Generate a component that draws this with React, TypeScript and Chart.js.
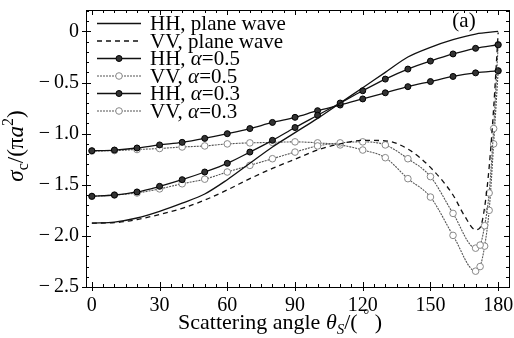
import React, { useEffect, useRef } from "react";
import { Chart, registerables } from "chart.js";

Chart.register(...registerables);

// ---------- data ----------
const angles = [0, 10, 20, 30, 40, 50, 60, 70, 80, 90, 100, 110, 120, 130, 140, 150, 160, 170, 180];
const anglesVVPlane = [0, 10, 20, 30, 40, 50, 60, 70, 80, 90, 100, 110, 120, 130, 140, 150, 160, 165, 170, 172, 174, 176, 178, 180];
const anglesVVAlpha = [0, 10, 20, 30, 40, 50, 60, 70, 80, 90, 100, 110, 120, 130, 140, 150, 160, 170, 172, 174, 176, 178, 180];

const hhPlane = [-1.875, -1.865, -1.825, -1.76, -1.68, -1.59, -1.45, -1.29, -1.13, -0.99, -0.85, -0.7, -0.55, -0.4, -0.25, -0.155, -0.08, -0.025, 0.0];
const vvPlane = [-1.875, -1.87, -1.84, -1.79, -1.73, -1.65, -1.55, -1.44, -1.34, -1.25, -1.16, -1.1, -1.065, -1.07, -1.15, -1.33, -1.6, -1.8, -1.94, -1.92, -1.72, -1.33, -0.75, -0.01];
const hhA05 = [-1.613, -1.6, -1.57, -1.515, -1.45, -1.375, -1.29, -1.18, -1.065, -0.94, -0.82, -0.7, -0.58, -0.466, -0.368, -0.29, -0.22, -0.165, -0.13];
const vvA05 = [-1.613, -1.6, -1.58, -1.54, -1.49, -1.445, -1.375, -1.31, -1.245, -1.18, -1.12, -1.09, -1.08, -1.11, -1.245, -1.42, -1.78, -2.12, -2.09, -1.9, -1.58, -0.95, -0.13];
const hhA03 = [-1.167, -1.16, -1.14, -1.11, -1.085, -1.046, -1.0, -0.95, -0.89, -0.84, -0.775, -0.72, -0.66, -0.6, -0.54, -0.49, -0.44, -0.405, -0.385];
const vvA03 = [-1.17, -1.165, -1.155, -1.145, -1.13, -1.12, -1.1, -1.09, -1.085, -1.08, -1.09, -1.11, -1.16, -1.235, -1.44, -1.62, -1.995, -2.345, -2.3, -2.1, -1.75, -1.1, -0.385];

const xTicks = [0, 30, 60, 90, 120, 150, 180];
const yTicks = [0, -0.5, -1.0, -1.5, -2.0, -2.5];

const seriesNames = ["HH, plane wave", "VV, plane wave", "HH, α=0.5", "VV, α=0.5", "HH, α=0.3", "VV, α=0.3"];

const SERIF = "'Liberation Serif', 'DejaVu Serif', 'Times New Roman', serif";

type Seg = { t: string; it?: boolean; sub?: boolean; sup?: boolean };

function drawRich(ctx: CanvasRenderingContext2D, segs: Seg[], size: number, cx: number, cy: number, align: "center" | "left") {
  const fontFor = (s: Seg) => {
    const sz = s.sub || s.sup ? Math.round(size * 0.68) : size;
    return `${s.it ? "italic " : ""}${sz}px ${SERIF}`;
  };
  let total = 0;
  const widths: number[] = [];
  segs.forEach((s) => {
    ctx.font = fontFor(s);
    const w = ctx.measureText(s.t).width;
    widths.push(w);
    total += w;
  });
  let x = align === "center" ? cx - total / 2 : cx;
  ctx.textBaseline = "middle";
  ctx.textAlign = "left";
  segs.forEach((s, i) => {
    ctx.font = fontFor(s);
    let dy = 0;
    if (s.sub) dy = size * 0.3;
    if (s.sup) dy = -size * 0.35;
    ctx.fillText(s.t, x, cy + dy);
    x += widths[i];
  });
}

const legendSegs: Seg[][] = [
  [{ t: "HH, plane wave" }],
  [{ t: "VV, plane wave" }],
  [{ t: "HH, " }, { t: "α", it: true }, { t: "=0.5" }],
  [{ t: "VV, " }, { t: "α", it: true }, { t: "=0.5" }],
  [{ t: "HH, " }, { t: "α", it: true }, { t: "=0.3" }],
  [{ t: "VV, " }, { t: "α", it: true }, { t: "=0.3" }],
];

const framePlugin = {
  id: "frameTicks",
  afterDraw(chart: any) {
    const { ctx, chartArea: a, scales } = chart;
    const xs = scales.x;
    const ys = scales.y;
    ctx.save();
    ctx.strokeStyle = "#000";
    ctx.lineWidth = 1;
    ctx.strokeRect(Math.round(a.left) + 0.5, Math.round(a.top) + 0.5, Math.round(a.right - a.left), Math.round(a.bottom - a.top));
    ctx.beginPath();
    for (let v = 0; v <= 184; v += 5) {
      const px = Math.round(xs.getPixelForValue(v)) + 0.5;
      const major = v % 30 === 0 && v <= 180;
      const inL = major ? 5 : 3;
      ctx.moveTo(px, a.bottom + (major ? 4 : 0));
      ctx.lineTo(px, a.bottom - inL);
      ctx.moveTo(px, a.top);
      ctx.lineTo(px, a.top + inL);
    }
    for (let k = -25; k <= 2; k++) {
      const v = k / 10;
      const py = Math.round(ys.getPixelForValue(v)) + 0.5;
      const major = k % 5 === 0;
      const inL = major ? 5 : 3;
      ctx.moveTo(a.left - (major ? 4 : 0), py);
      ctx.lineTo(a.left + inL, py);
      ctx.moveTo(a.right, py);
      ctx.lineTo(a.right - inL, py);
    }
    ctx.stroke();

    // axis titles
    ctx.fillStyle = "#000";
    drawRich(
      ctx,
      [
        { t: "Scattering angle " },
        { t: "θ", it: true },
        { t: "S", it: true, sub: true },
        { t: "/( " },
        { t: "°", sup: true },
        { t: " )" },
      ],
      22,
      280,
      323,
      "center"
    );
    ctx.save();
    ctx.translate(17, 146);
    ctx.rotate(-Math.PI / 2);
    drawRich(
      ctx,
      [
        { t: "σ", it: true },
        { t: "c", sub: true },
        { t: "/(π" },
        { t: "a", it: true },
        { t: "2", sup: true },
        { t: ")" },
      ],
      23,
      0,
      0,
      "center"
    );
    ctx.restore();

    // (a) label
    drawRich(ctx, [{ t: "(a)" }], 21, a.right - 45, 21, "center");

    // legend
    const ds = chart.data.datasets;
    for (let i = 0; i < legendSegs.length; i++) {
      const cy = 23.5 + i * 17.5;
      const d = ds[i];
      ctx.save();
      ctx.strokeStyle = d.borderColor;
      ctx.lineWidth = d.borderWidth;
      ctx.setLineDash(d.borderDash || []);
      ctx.beginPath();
      ctx.moveTo(97, cy);
      ctx.lineTo(141, cy);
      ctx.stroke();
      ctx.setLineDash([]);
      if (d.pointRadius && typeof d.pointRadius === "number" && d.pointRadius > 0) {
        ctx.beginPath();
        ctx.arc(119, cy, d.pointRadius, 0, Math.PI * 2);
        ctx.fillStyle = d.pointBackgroundColor;
        ctx.fill();
        ctx.strokeStyle = d.pointBorderColor;
        ctx.lineWidth = d.pointBorderWidth;
        ctx.stroke();
      }
      ctx.restore();
      ctx.fillStyle = "#000";
      drawRich(ctx, legendSegs[i], 21, 150, cy + 1, "left");
    }
    ctx.restore();
  },
};

export default function App() {
  const ref = useRef<HTMLCanvasElement | null>(null);
  useEffect(() => {
    document.body.style.margin = "0";
    const canvas = ref.current!;
    const mk = (xsArr: number[], ysArr: number[]) => xsArr.map((x, i) => ({ x, y: ysArr[i] }));
    const chart = new Chart(canvas, {
      type: "line",
      data: {
        datasets: [
          {
            label: seriesNames[0],
            data: mk(angles, hhPlane),
            borderColor: "#111",
            borderWidth: 1.3,
            pointRadius: 0,
            cubicInterpolationMode: "monotone",
          },
          {
            label: seriesNames[1],
            data: mk(anglesVVPlane, vvPlane),
            borderColor: "#111",
            borderWidth: 1.3,
            borderDash: [5, 4],
            pointRadius: 0,
            cubicInterpolationMode: "monotone",
          },
          {
            label: seriesNames[2],
            data: mk(angles, hhA05),
            borderColor: "#111",
            borderWidth: 1.3,
            pointRadius: 3,
            pointBackgroundColor: "#333",
            pointBorderColor: "#000",
            pointBorderWidth: 1,
            cubicInterpolationMode: "monotone",
          },
          {
            label: seriesNames[3],
            data: mk(anglesVVAlpha, vvA05),
            borderColor: "#555",
            borderWidth: 1.1,
            borderDash: [2, 1],
            pointRadius: 3.3,
            pointBackgroundColor: "#fff",
            pointBorderColor: "#888",
            pointBorderWidth: 1,
            cubicInterpolationMode: "monotone",
          },
          {
            label: seriesNames[4],
            data: mk(angles, hhA03),
            borderColor: "#111",
            borderWidth: 1.3,
            pointRadius: 3,
            pointBackgroundColor: "#333",
            pointBorderColor: "#000",
            pointBorderWidth: 1,
            cubicInterpolationMode: "monotone",
          },
          {
            label: seriesNames[5],
            data: mk(anglesVVAlpha, vvA03),
            borderColor: "#555",
            borderWidth: 1.1,
            borderDash: [2, 1],
            pointRadius: 3.3,
            pointBackgroundColor: "#fff",
            pointBorderColor: "#888",
            pointBorderWidth: 1,
            cubicInterpolationMode: "monotone",
          },
        ],
      },
      options: {
        responsive: false,
        animation: false,
        devicePixelRatio: 1,
        layout: { padding: { left: 0, right: 2, top: 10, bottom: 0 } },
        plugins: { legend: { display: false }, tooltip: { enabled: false } },
        scales: {
          x: {
            type: "linear",
            min: -2.6,
            max: 184.8,
            afterBuildTicks: (s: any) => {
              s.ticks = xTicks.map((v) => ({ value: v }));
            },
            afterFit: (s: any) => {
              s.height = 51;
              s.paddingLeft = 0;
              s.paddingRight = 0;
            },
            grid: { display: false, drawTicks: false },
            border: { display: false },
            ticks: {
              color: "#000",
              padding: 7,
              maxRotation: 0,
              autoSkip: false,
              font: { family: SERIF, size: 20 },
              callback: (v: any) => String(v),
            },
          },
          y: {
            type: "linear",
            min: -2.5,
            max: 0.21,
            afterBuildTicks: (s: any) => {
              s.ticks = yTicks.map((v) => ({ value: v }));
            },
            afterFit: (s: any) => {
              s.width = 86;
              s.paddingTop = 0;
              s.paddingBottom = 0;
            },
            grid: { display: false, drawTicks: false },
            border: { display: false },
            ticks: {
              color: "#000",
              padding: 7,
              font: { family: SERIF, size: 20 },
              callback: (v: any) => (Number(v) === 0 ? "0" : "\u2212\u2009" + Math.abs(Number(v)).toFixed(1)),
            },
          },
        },
      },
      plugins: [framePlugin],
    } as any);
    return () => chart.destroy();
  }, []);
  return <canvas ref={ref} width={514} height={338} style={{ display: "block", width: 514, height: 338 }} />;
}
